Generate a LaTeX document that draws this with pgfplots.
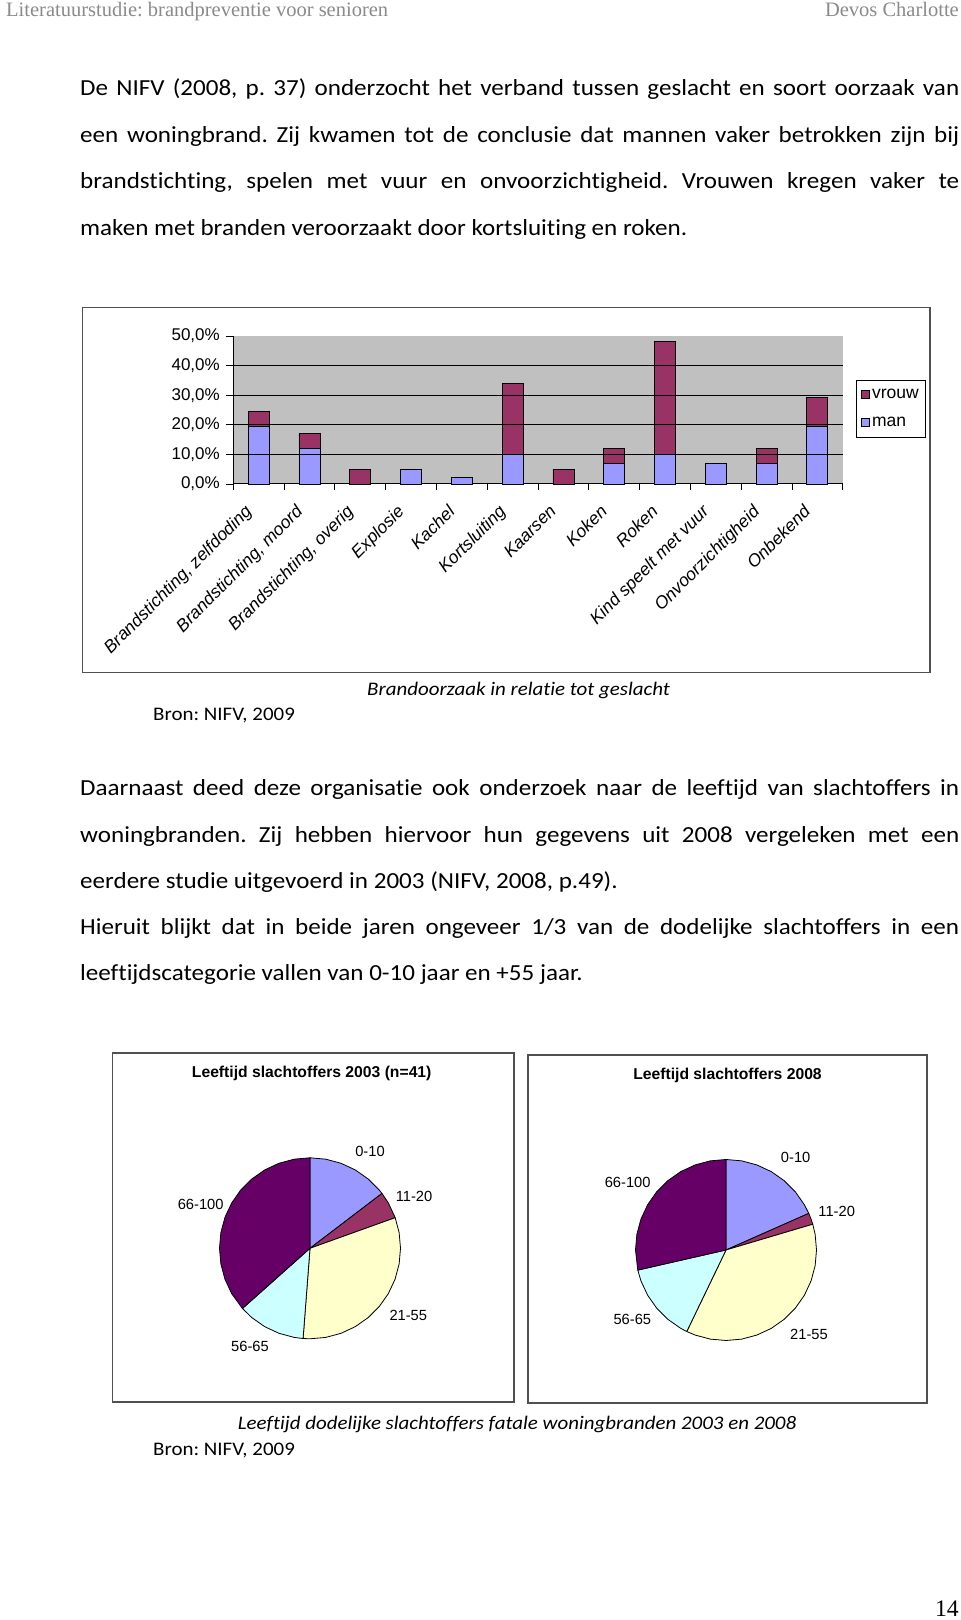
\documentclass[border=0pt]{standalone}
\usepackage{fontspec}
\setmainfont{Carlito}[Ligatures={NoCommon}]
\newfontfamily\arialf{Liberation Sans}
\newfontfamily\timesf{Liberation Serif}
\usepackage{graphicx}
\usepackage{pgfplots}
\pgfplotsset{compat=1.18}
\usepgfplotslibrary{polar}
\usepackage{pgfplotstable}
\frenchspacing

\definecolor{manc}{HTML}{9999FF}
\definecolor{vrouwc}{HTML}{993366}
\definecolor{plotgray}{HTML}{C0C0C0}
\definecolor{pA}{HTML}{9999FF}
\definecolor{pB}{HTML}{993366}
\definecolor{pC}{HTML}{FFFFCC}
\definecolor{pD}{HTML}{CCFFFF}
\definecolor{pE}{HTML}{660066}
\definecolor{hdr}{HTML}{8A8A8A}
\definecolor{framec}{HTML}{505050}

\pgfplotstableread{
x man vrouw
0 19.5 5
1 12 5
2 0 5
3 5 0
4 2.1 0
5 10 24
6 0 5
7 7 5
8 10 38
9 7 0
10 7 5
11 19.5 9.7
}\bardata

\newcommand\bodyfont{\fontsize{23bp}{27bp}\selectfont}
\newcommand\capfont{\fontsize{19.2bp}{23bp}\selectfont}
\newcommand\jl[1]{\scalebox{1.09}[1]{\makebox[806.4bp][s]{#1}}}
\newcommand\nl[1]{\scalebox{1.09}[1]{#1}}
\newcommand\chartfont{\arialf\fontsize{17bp}{19bp}\selectfont}
\newcommand\legfont{\arialf\fontsize{17.5bp}{19bp}\selectfont}
\newcommand\piefont{\arialf\fontsize{14.7bp}{16bp}\selectfont}

\begin{document}
\begin{tikzpicture}[x=1bp,y=1bp]
\useasboundingbox (0,0) rectangle (960,1620);
\fill[white] (0,0) rectangle (960,1620);

% header
\node[anchor=base west, inner sep=0, text=hdr] at (6,1603) {\timesf\fontsize{20.5bp}{22bp}\selectfont Literatuurstudie: brandpreventie voor senioren};
\node[anchor=base east, inner sep=0, text=hdr] at (959,1603) {\timesf\fontsize{20.5bp}{22bp}\selectfont Devos Charlotte};

% paragraph 1
\node[anchor=base west, inner sep=0] at (80,1524) {\bodyfont\jl{De NIFV (2008, p. 37) onderzocht het verband tussen geslacht en soort oorzaak van}};
\node[anchor=base west, inner sep=0] at (80,1477.5) {\bodyfont\jl{een woningbrand. Zij kwamen tot de conclusie dat mannen vaker betrokken zijn bij}};
\node[anchor=base west, inner sep=0] at (80,1431) {\bodyfont\jl{brandstichting, spelen met vuur en onvoorzichtigheid. Vrouwen kregen vaker te}};
\node[anchor=base west, inner sep=0] at (80,1384.5) {\bodyfont\nl{maken met branden veroorzaakt door kortsluiting en roken.}};

% bar chart frame
\draw[framec, line width=1.4bp] (82.7,947.7) rectangle (930,1312.3);

\begin{axis}[
  at={(233.3bp,1136bp)}, anchor=south west,
  scale only axis, width=609.4bp, height=148bp,
  xmin=-0.5, xmax=11.5, ymin=0, ymax=50,
  axis x line*=bottom, axis y line*=left,
  axis line style={-, black, line width=1bp},
  axis background/.style={fill=plotgray},
  ybar stacked, bar width=21bp,
  tick align=outside,
  major tick length=7bp, minor tick length=6bp,
  ytick={0,10,20,30,40,50},
  yticklabels={{0,0\%},{10,0\%},{20,0\%},{30,0\%},{40,0\%},{50,0\%}},
  yticklabel style={font=\chartfont, xshift=-3bp},
  xtick={0,1,2,3,4,5,6,7,8,9,10,11},
  xticklabels={{Brandstichting, zelfdoding},{Brandstichting, moord},{Brandstichting, overig},Explosie,Kachel,Kortsluiting,Kaarsen,Koken,Roken,{Kind speelt met vuur},Onvoorzichtigheid,Onbekend},
  xticklabel style={xshift=-15bp, yshift=-11bp, rotate=45, anchor=north east, inner sep=1bp, font=\arialf\itshape\fontsize{17.5bp}{19bp}\selectfont},
  major x tick style={draw=none},
  minor xtick={-0.5,0.5,1.5,2.5,3.5,4.5,5.5,6.5,7.5,8.5,9.5,10.5,11.5},
  minor x tick style={black, line width=0.8bp},
  major y tick style={black, line width=0.8bp},
  legend style={at={(1.0218,0.703)}, anchor=north west, draw=black, line width=0.8bp, fill=white, font=\legfont, inner xsep=5bp, inner ysep=7bp, row sep=13bp,
    /tikz/every even column/.append style={column sep=4bp}},
  legend cell align=left,
  reverse legend,
  legend image code/.code={\draw[#1,draw=black,line width=0.6bp] (0bp,-4bp) rectangle (8bp,4bp);},
  clip=false,
]
\draw[black, line width=0.8bp] (axis cs:-0.5,10) -- (axis cs:11.5,10);
\draw[black, line width=0.8bp] (axis cs:-0.5,20) -- (axis cs:11.5,20);
\draw[black, line width=0.8bp] (axis cs:-0.5,30) -- (axis cs:11.5,30);
\draw[black, line width=0.8bp] (axis cs:-0.5,40) -- (axis cs:11.5,40);
\addplot[fill=manc, draw=black, line width=0.8bp] table[x=x, y=man] {\bardata};
\addlegendentry{man}
\addplot[fill=vrouwc, draw=black, line width=0.8bp] table[x=x, y=vrouw] {\bardata};
\addlegendentry{vrouw}
\end{axis}

% captions 1
\node[anchor=base west, inner sep=0] at (367,924) {\capfont\nl{\itshape Brandoorzaak in relatie tot geslacht}};
\node[anchor=base west, inner sep=0] at (153,899) {\capfont\nl{Bron: NIFV, 2009}};

% paragraph 2
\node[anchor=base west, inner sep=0] at (80,824) {\bodyfont\jl{Daarnaast deed deze organisatie ook onderzoek naar de leeftijd van slachtoffers in}};
\node[anchor=base west, inner sep=0] at (80,777.5) {\bodyfont\jl{woningbranden. Zij hebben hiervoor hun gegevens uit 2008 vergeleken met een}};
\node[anchor=base west, inner sep=0] at (80,731) {\bodyfont\nl{eerdere studie uitgevoerd in 2003 (NIFV, 2008, p.49).}};
\node[anchor=base west, inner sep=0] at (80,685.5) {\bodyfont\jl{Hieruit blijkt dat in beide jaren ongeveer 1/3 van de dodelijke slachtoffers in een}};
\node[anchor=base west, inner sep=0] at (80,639) {\bodyfont\nl{leeftijdscategorie vallen van 0-10 jaar en +55 jaar.}};

% pie frames
\draw[framec, line width=1.4bp] (112.7,218) rectangle (514,567);
\draw[framec, line width=1.4bp] (528,217) rectangle (927,565);

% pie 2003 (n=41): 0-10: 6, 11-20: 2, 21-55: 13, 56-65: 5, 66-100: 15
\begin{polaraxis}[at={(310bp,371.7bp)}, anchor=center, scale only axis, width=181bp, height=181bp,
  hide axis, xmin=0, xmax=360, ymin=0, ymax=1, clip=false]
\addplot[fill=pA, draw=black, line width=0.8bp, line join=round] coordinates {(0,0) (90,1) (80,1) (70,1) (60,1) (50,1) (40,1) (37.317,1) (0,0)};
\addplot[fill=pB, draw=black, line width=0.8bp, line join=round] coordinates {(0,0) (37.317,1) (30,1) (20,1) (19.756,1) (0,0)};
\addplot[fill=pC, draw=black, line width=0.8bp, line join=round] coordinates {(0,0) (19.756,1) (10,1) (0,1) (350,1) (340,1) (330,1) (320,1) (310,1) (300,1) (290,1) (280,1) (270,1) (265.610,1) (0,0)};
\addplot[fill=pD, draw=black, line width=0.8bp, line join=round] coordinates {(0,0) (265.610,1) (260,1) (250,1) (240,1) (230,1) (221.708,1) (0,0)};
\addplot[fill=pE, draw=black, line width=0.8bp, line join=round] coordinates {(0,0) (221.708,1) (210,1) (200,1) (190,1) (180,1) (170,1) (160,1) (150,1) (140,1) (130,1) (120,1) (110,1) (100,1) (90,1) (0,0)};
\end{polaraxis}

% pie 2008 (n=49): 0-10: 9, 11-20: 1, 21-55: 18, 56-65: 7, 66-100: 14
\begin{polaraxis}[at={(726bp,370bp)}, anchor=center, scale only axis, width=181bp, height=181bp,
  hide axis, xmin=0, xmax=360, ymin=0, ymax=1, clip=false]
\addplot[fill=pA, draw=black, line width=0.8bp, line join=round] coordinates {(0,0) (90,1) (80,1) (70,1) (60,1) (50,1) (40,1) (30,1) (23.878,1) (0,0)};
\addplot[fill=pB, draw=black, line width=0.8bp, line join=round] coordinates {(0,0) (23.878,1) (20,1) (16.531,1) (0,0)};
\addplot[fill=pC, draw=black, line width=0.8bp, line join=round] coordinates {(0,0) (16.531,1) (10,1) (0,1) (350,1) (340,1) (330,1) (320,1) (310,1) (300,1) (290,1) (280,1) (270,1) (260,1) (250,1) (244.286,1) (0,0)};
\addplot[fill=pD, draw=black, line width=0.8bp, line join=round] coordinates {(0,0) (244.286,1) (240,1) (230,1) (220,1) (210,1) (200,1) (192.857,1) (0,0)};
\addplot[fill=pE, draw=black, line width=0.8bp, line join=round] coordinates {(0,0) (192.857,1) (180,1) (170,1) (160,1) (150,1) (140,1) (130,1) (120,1) (110,1) (100,1) (90,1) (0,0)};
\end{polaraxis}

% pie titles and labels
\node[inner sep=0] at (311.7,546.7) {\arialf\bfseries\fontsize{15.7bp}{17bp}\selectfont Leeftijd slachtoffers 2003 (n=41)};
\node[inner sep=0] at (727.5,545) {\arialf\bfseries\fontsize{15.7bp}{17bp}\selectfont Leeftijd slachtoffers 2008};
\node[inner sep=0] at (370,468.3) {\piefont 0-10};
\node[inner sep=0] at (414,423.3) {\piefont 11-20};
\node[inner sep=0] at (200.7,416) {\piefont 66-100};
\node[inner sep=0] at (408.3,305) {\piefont 21-55};
\node[inner sep=0] at (250,274) {\piefont 56-65};
\node[inner sep=0] at (795.7,462.7) {\piefont 0-10};
\node[inner sep=0] at (836.7,408.3) {\piefont 11-20};
\node[inner sep=0] at (627.7,437.3) {\piefont 66-100};
\node[inner sep=0] at (632.3,300.7) {\piefont 56-65};
\node[inner sep=0] at (809,286) {\piefont 21-55};

% captions 2
\node[anchor=base west, inner sep=0] at (237.7,190.5) {\capfont\nl{\itshape Leeftijd dodelijke slachtoffers fatale woningbranden 2003 en 2008}};
\node[anchor=base west, inner sep=0] at (153,164.5) {\capfont\nl{Bron: NIFV, 2009}};

% page number
\node[anchor=base east, inner sep=0] at (959,3) {\timesf\fontsize{23.7bp}{25bp}\selectfont 14};
\end{tikzpicture}
\end{document}
